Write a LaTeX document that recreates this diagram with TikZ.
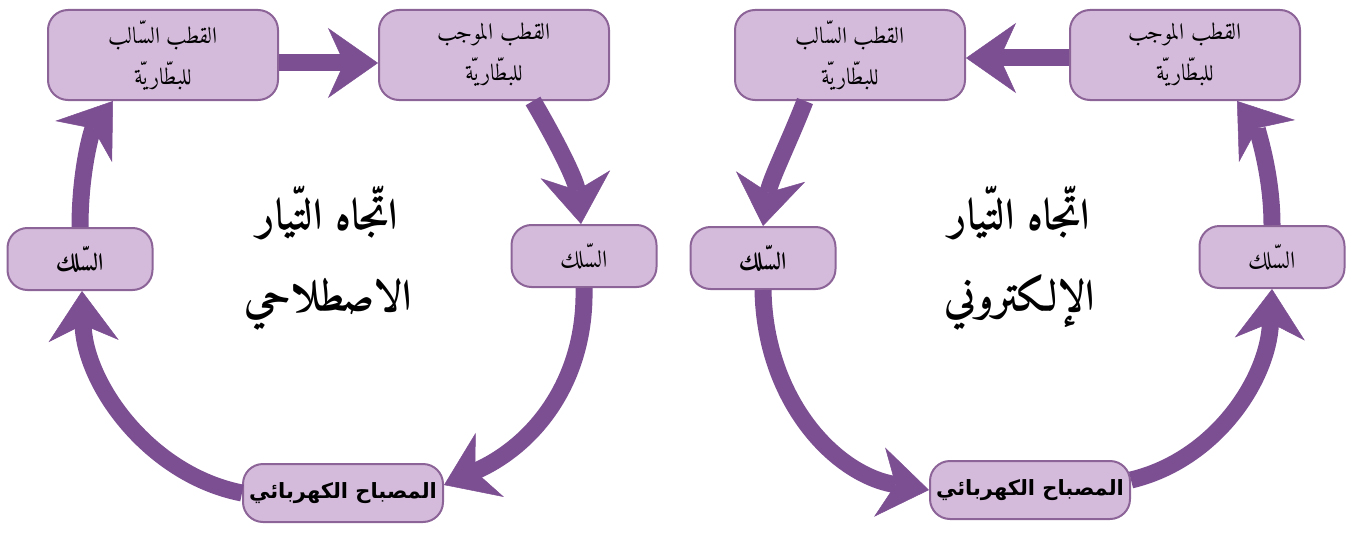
\documentclass[tikz,border=0pt]{standalone}
\usepackage{fontspec}
\usetikzlibrary{arrows.meta,calc}
\TeXXeTstate=1
\newfontfamily\naskh[Script=Arabic,BoldFont=Amiri-Bold.ttf]{Amiri-Regular.ttf}
\newfontfamily\arsans[Script=Arabic]{DejaVu Sans}
\definecolor{boxfill}{RGB}{213,187,219}
\definecolor{boxline}{RGB}{140,100,152}
\definecolor{arrcol}{RGB}{124,78,146}
\tikzset{
 box/.style={draw=boxline, line width=2pt, fill=boxfill, rounded corners=20pt, align=center, inner sep=0pt},
 bigbox/.style={box, minimum width=230pt, minimum height=90pt, font=\naskh\fontsize{23}{41}\selectfont},
 wirebox/.style={box, minimum width=145pt, minimum height=62pt, font=\naskh\fontsize{24}{26}\selectfont},
 lampbox/.style={box, minimum width=200pt, minimum height=58pt, font=\arsans\bfseries\fontsize{21}{24}\selectfont},
 titletext/.style={font=\naskh\bfseries\fontsize{43}{81}\selectfont, inner sep=0pt, align=center},
 flow/.style={draw=arrcol, line width=17pt, -{Stealth[length=50pt,width=70pt,inset=16pt,line width=0.5pt,fill=arrcol]}},
}
\begin{document}
\begin{tikzpicture}[x=1pt,y=-1pt]
\useasboundingbox (0,0) rectangle (1357,543);
% left diagram
\node[bigbox] (lneg) at (163,55) {\beginR القطب السّالب\endR\\\beginR للبطّاريّة\endR};
\node[bigbox] (lpos) at (494,55) {\beginR القطب الموجب\endR\\\beginR للبطّاريّة\endR};
\node[wirebox] (lwr) at (584,256) {\beginR السّلك\endR};
\node[lampbox] (llamp) at (343,493) {\beginR المصباح الكهربائي\endR};
\node[wirebox,font=\naskh\bfseries\fontsize{24}{26}\selectfont] (lwl) at (80,259) {\beginR السّلك\endR};
\node[titletext] (lt) at (328,258) {\beginR اتّجاه التّيار\endR\\\beginR الاصطلاحي\endR};
\draw[flow] ($(lneg.east)+(0,8)$) -- ($(lpos.west)+(0,8)$);
\draw[flow] ($(lpos.south)+(39,0)$) .. controls (556,140) and (576,180) .. ($(lwr.north)+(-3,0)$);
\draw[flow] (lwr.south) .. controls (586,380) and (535,445) .. ($(llamp.east)+(0,-8)$);
\draw[flow] (llamp.west) .. controls (150,475) and (85,385) .. ($(lwl.south)+(2,0)$);
\draw[flow] (lwl.north) .. controls (80,170) and (92,130) .. ($(lneg.south)+(-50,0)$);
% right diagram
\node[bigbox] (rneg) at (850,55) {\beginR القطب السّالب\endR\\\beginR للبطّاريّة\endR};
\node[bigbox] (rpos) at (1185,55) {\beginR القطب الموجب\endR\\\beginR للبطّاريّة\endR};
\node[wirebox,font=\naskh\bfseries\fontsize{24}{26}\selectfont] (rwl) at (763,258) {\beginR السّلك\endR};
\node[lampbox] (rlamp) at (1030,490) {\beginR المصباح الكهربائي\endR};
\node[wirebox] (rwr) at (1272,257) {\beginR السّلك\endR};
\node[titletext] (rt) at (1020,258) {\beginR اتّجاه التّيار\endR\\\beginR الإلكتروني\endR};
\draw[flow] ($(rpos.west)+(0,3)$) -- ($(rneg.east)+(0,3)$);
\draw[flow] ($(rneg.south)+(-45,0)$) .. controls (790,140) and (770,180) .. (rwl.north);
\draw[flow] (rwl.south) .. controls (765,400) and (835,475) .. (rlamp.west);
\draw[flow] ($(rlamp.east)+(0,-10)$) .. controls (1215,460) and (1268,380) .. (rwr.south);
\draw[flow] (rwr.north) .. controls (1272,170) and (1255,125) .. ($(rpos.south)+(52,0)$);
\end{tikzpicture}
\end{document}
